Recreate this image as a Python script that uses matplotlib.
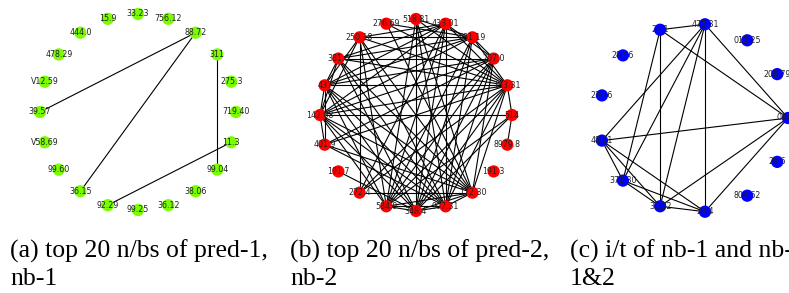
import numpy as np
import matplotlib
matplotlib.use("Agg")
import matplotlib.pyplot as plt
from matplotlib.collections import LineCollection

# ---------------- data ----------------
# node labels, listed counter-clockwise starting at angle 0 (circular layout)
nodes_a = ["719.40", "275.3", "311", "88.72", "756.12", "33.23", "15.9", "444.0",
           "478.29", "V12.59", "39.57", "V58.69", "99.60", "36.15", "92.29",
           "99.25", "36.12", "38.06", "99.04", "11.3"]
edges_a = [("88.72", "39.57"), ("88.72", "36.15"), ("311", "99.04"), ("11.3", "92.29")]

nodes_b = ["514", "133.31", "207.0", "681.19", "433.01", "518.81", "276.69", "250.18",
           "381.6", "437", "142.08", "401.9", "191.7", "272.4", "584.9", "348.4",
           "907.31", "172.30", "191.3", "8979.8"]
edges_b_idx = [
    (7, 3), (8, 2), (9, 1), (10, 0), (13, 17), (4, 16), (0, 19),
    (1, 8), (1, 7), (1, 10), (1, 11), (1, 13), (1, 14), (1, 15), (1, 16), (1, 17),
    (1, 3), (1, 4), (1, 5), (1, 6), (1, 0),
    (3, 8), (3, 9), (3, 10), (3, 5), (3, 6), (3, 2), (3, 14), (3, 15), (3, 16),
    (4, 2), (4, 7), (4, 8), (4, 9), (4, 10), (4, 14), (4, 15), (4, 13),
    (17, 11), (17, 10), (17, 9), (17, 8), (17, 7), (17, 5), (17, 6), (17, 2),
    (17, 16), (17, 15), (17, 14),
    (10, 16), (10, 15), (10, 14), (10, 2), (10, 9), (10, 11), (10, 8),
    (16, 9), (16, 8), (16, 7), (16, 11), (16, 15), (16, 14), (16, 2), (16, 5),
    (15, 9), (15, 8), (15, 5), (15, 2), (15, 0), (15, 14), (15, 12),
    (14, 9), (14, 2), (14, 0), (14, 5), (14, 7),
    (2, 9), (2, 11), (2, 13),
    (7, 9), (7, 10), (7, 13), (8, 9), (9, 11),
]
edges_b = [(nodes_b[i], nodes_b[j]) for i, j in edges_b_idx]

nodes_c = ["041.5", "209.79", "013.25", "473.31", "22.1", "287.6", "239.6", "48.11",
           "372.30", "33.22", "23.4", "803.62", "20.6"]
edges_c = [("22.1", "473.31"), ("22.1", "041.5"), ("22.1", "33.22"), ("22.1", "372.30"),
           ("473.31", "48.11"), ("473.31", "372.30"), ("473.31", "33.22"),
           ("473.31", "23.4"), ("473.31", "041.5"),
           ("48.11", "041.5"), ("48.11", "372.30"), ("48.11", "33.22"), ("48.11", "23.4"),
           ("372.30", "33.22"), ("372.30", "23.4"), ("33.22", "23.4"),
           ("33.22", "041.5"), ("23.4", "041.5")]

captions = [("(a) top 20 n/bs of pred-1,", "nb-1"),
            ("(b) top 20 n/bs of pred-2,", "nb-2"),
            ("(c) i/t of nb-1 and nb-2 of pred-", "1&2")]
node_colors = ["#7cfc00", "#ff0000", "#0000ff"]

# ---------------- figure ----------------
W, H = 789, 293
DPI = 100
fig = plt.figure(figsize=(W / DPI, H / DPI), dpi=DPI)

L = 1.15
# (center x px, center y px from top, radius px)
panels = [(138, 112, 98), (416, 115, 96), (693.6, 118, 94.4)]
graphs = [(nodes_a, edges_a), (nodes_b, edges_b), (nodes_c, edges_c)]

for (cx, cy, r), (nodes, edges), col in zip(panels, graphs, node_colors):
    w = 2 * L * r
    ax = fig.add_axes([(cx - w / 2) / W, (H - cy - w / 2) / H, w / W, w / H])
    ax.set_xlim(-L, L)
    ax.set_ylim(-L, L)
    ax.axis("off")
    n = len(nodes)
    ang = 2 * np.pi * np.arange(n) / n
    pos = {name: (np.cos(a), np.sin(a)) for name, a in zip(nodes, ang)}
    segs = [[pos[u], pos[v]] for u, v in edges]
    ax.add_collection(LineCollection(segs, colors="k", linewidths=0.8, zorder=1,
                                     clip_on=False))
    xs = [pos[k][0] for k in nodes]
    ys = [pos[k][1] for k in nodes]
    ax.scatter(xs, ys, s=78, c=col, edgecolors="none", zorder=2, clip_on=False)
    for k in nodes:
        ax.text(pos[k][0], pos[k][1], k, ha="center", va="center", fontsize=5.7,
                color="#222222", family="DejaVu Sans", zorder=3, clip_on=False)

cap_x = [10, 290, 570]
for x, (l1, l2) in zip(cap_x, captions):
    fig.text(x / W, 1 - 258 / H, l1, ha="left", va="baseline", fontsize=18.5,
             family="Liberation Serif")
    fig.text(x / W, 1 - 285 / H, l2, ha="left", va="baseline", fontsize=18.5,
             family="Liberation Serif")

fig.savefig("out.png", dpi=DPI)
